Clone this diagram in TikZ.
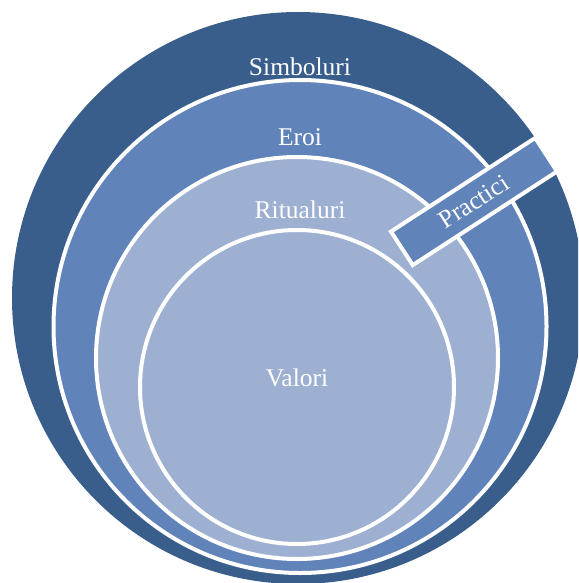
\documentclass[tikz,border=0pt]{standalone}
\usepackage{fontspec}
\setmainfont{Liberation Serif}
\definecolor{ringdark}{RGB}{57,94,140}
\definecolor{ringmid}{RGB}{96,131,186}
\definecolor{ringlight}{RGB}{157,176,209}
\tikzset{
  ring/.style={circle, inner sep=0pt, draw=white, line width=4pt},
  lbl/.style={text=white, font=\fontsize{25.5}{30}\selectfont, inner sep=0pt}
}
\begin{document}
\begin{tikzpicture}[x=1pt, y=-1pt]
\useasboundingbox (0,0) rectangle (578,583);
\clip (0,0) rectangle (578,583);
\node[ring, fill=ringdark, draw=none, minimum size=572pt] (simb) at (298,298) {};
\node[ring, fill=ringmid, minimum size=493pt] (eroi) at (300,326.5) {};
\node[ring, fill=ringlight, minimum size=402pt] (rit) at (297,358) {};
\node[ring, fill=ringlight, minimum size=314pt] (val) at (297,387) {};
\node[lbl] (tsimb) at (300,67) {Simboluri};
\node[lbl] (teroi) at (300,137) {Eroi};
\node[lbl] (trit) at (300,210) {Ritualuri};
\node[lbl] (tval) at (297,378) {Valori};
\node[lbl, rotate=33, draw=white, line width=4pt, fill=ringmid,
      minimum width=172pt, minimum height=40pt] (prac) at (474,201.5) {Practici};
\end{tikzpicture}
\end{document}
